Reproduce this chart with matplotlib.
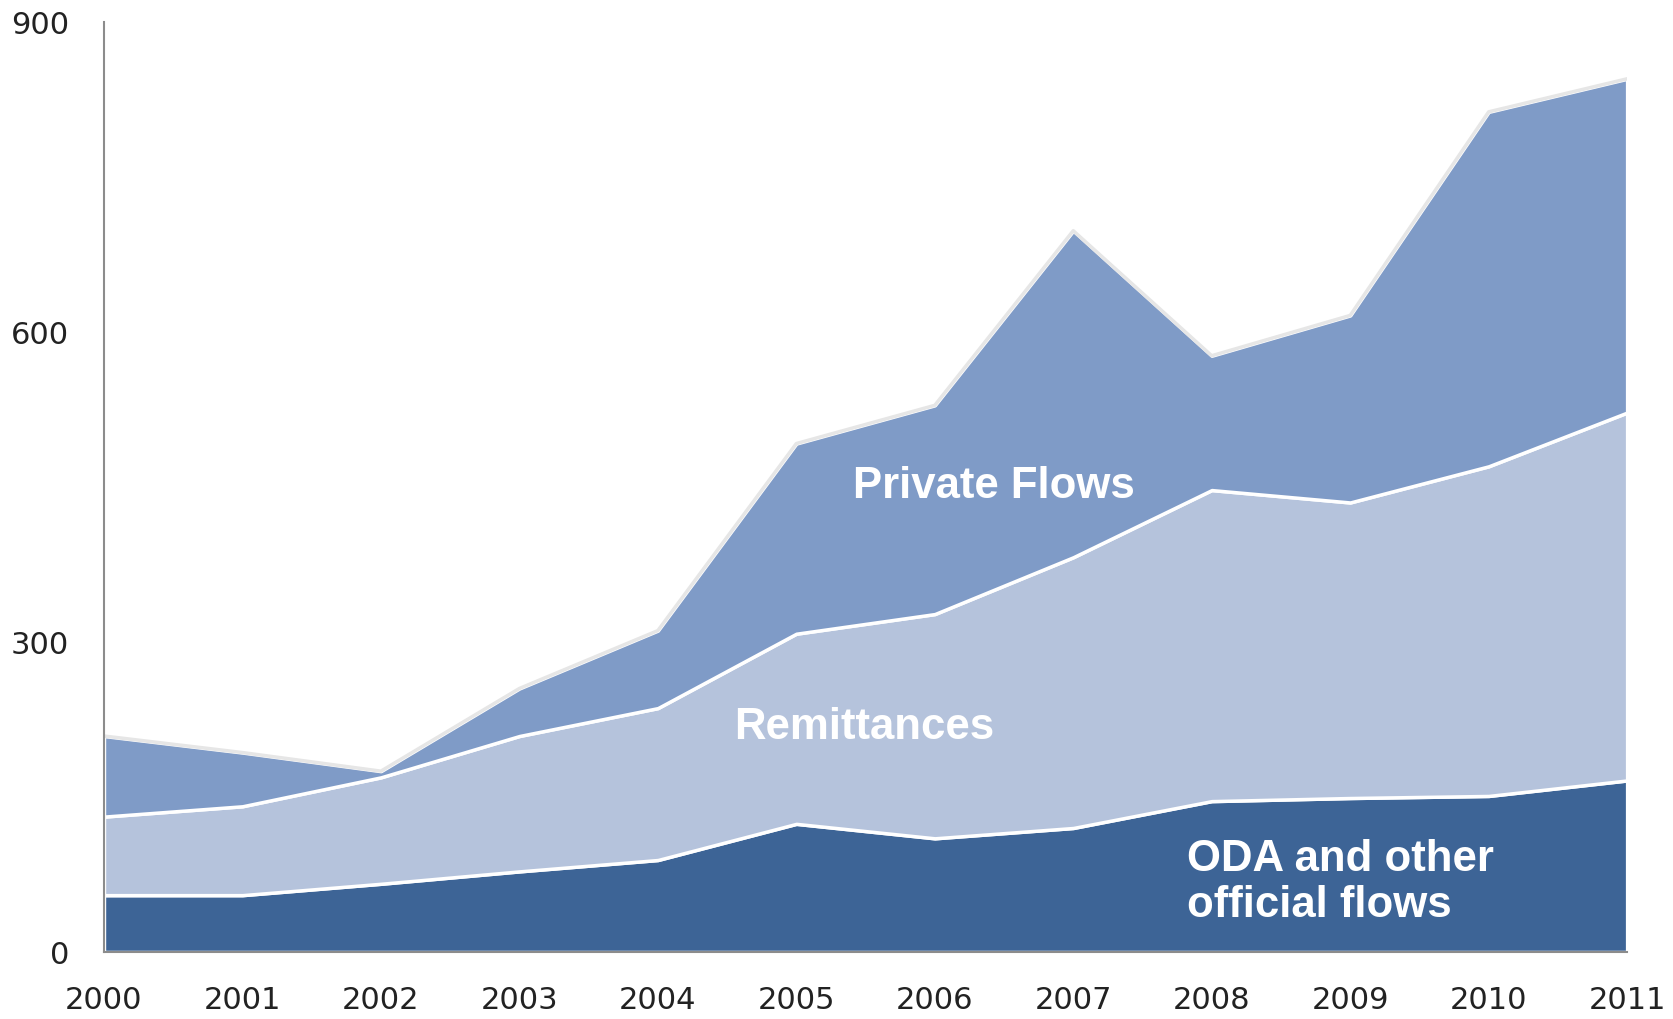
import matplotlib
matplotlib.use("Agg")
import matplotlib.pyplot as plt
import numpy as np

# Financial flows by type, 2000-2011
years = [2000, 2001, 2002, 2003, 2004, 2005, 2006, 2007, 2008, 2009, 2010, 2011]
oda = [55, 55, 66, 78, 89, 124, 110, 120, 146, 149, 151, 166]
remittances = [76, 86, 103, 131, 147, 184, 217, 262, 301, 286, 319, 356]
private = [78, 52, 6, 46, 75, 184, 202, 316, 130, 181, 343, 323]

y_ticks = [0, 300, 600, 900]

c_oda = "#3D6496"
c_rem = "#B5C3DC"
c_priv = "#7F9BC7"

fig = plt.figure(figsize=(16.74, 10.20), dpi=100)
ax = fig.add_axes([0.0621, 0.0657, 0.9099, 0.9118])

ax.stackplot(years, oda, remittances, private,
             colors=[c_oda, c_rem, c_priv],
             edgecolor="white", linewidth=2.5)

# faint outline along the top of the stack
total = np.array(oda) + np.array(remittances) + np.array(private)
ax.plot(years, total, color="#e6e6e6", linewidth=2.5, zorder=1.5)

ax.set_xlim(2000, 2011)
ax.set_ylim(0, 900)
ax.set_xticks(years)
ax.set_yticks(y_ticks)
ax.tick_params(length=0, labelsize=22, colors="#222222")
ax.tick_params(axis="x", pad=24)
ax.tick_params(axis="y", pad=25)

for s in ["top", "right"]:
    ax.spines[s].set_visible(False)
for s in ["left", "bottom"]:
    ax.spines[s].set_color("#8c8c8c")
    ax.spines[s].set_linewidth(1.5)
    ax.spines[s].set_zorder(5)

lbl = dict(color="white", fontsize=31.5, fontweight="bold",
           family=["Liberation Sans", "DejaVu Sans"])
ax.text(2006.43, 451, "Private Flows", ha="center", va="center", **lbl)
ax.text(2005.49, 218, "Remittances", ha="center", va="center", **lbl)
ax.text(2007.82, 68, "ODA and other\nofficial flows", ha="left", va="center",
        linespacing=1.15, **lbl)

fig.savefig("out.png", dpi=100)
